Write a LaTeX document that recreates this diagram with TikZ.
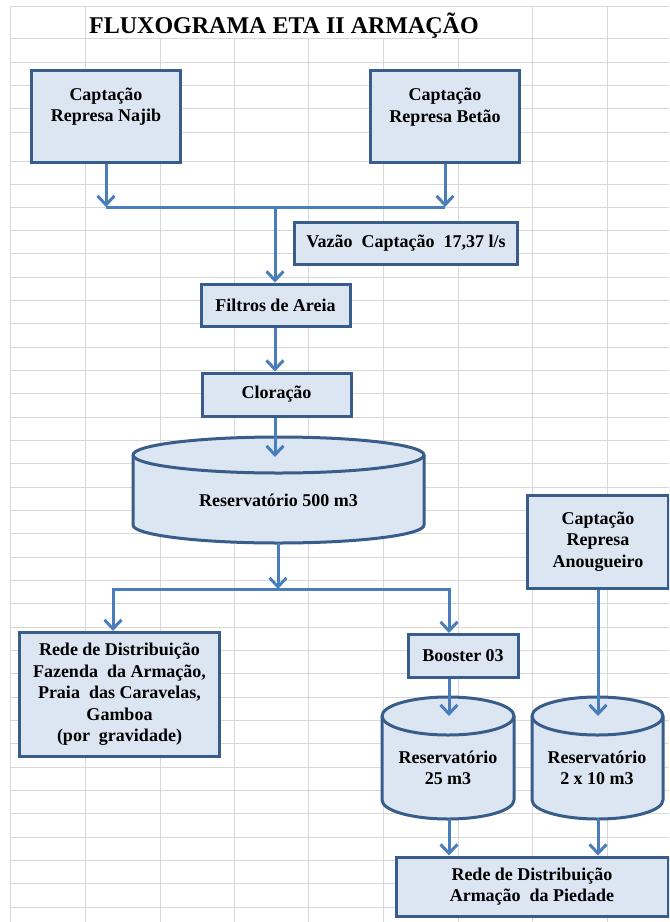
\documentclass[tikz,border=0pt]{standalone}
\usepackage{fontspec}
\setmainfont{Liberation Serif}
\usetikzlibrary{arrows.meta}

% one drawing unit = one screen pixel
\newdimen\pxu \pxu=0.75pt

\definecolor{boxfill}{HTML}{DCE6F2}
\definecolor{boxline}{HTML}{385D8A}
\definecolor{flow}{HTML}{4A7EBB}
\definecolor{gridgray}{HTML}{D8D8D8}

\newcommand\bodyfont{\fontsize{13.5pt}{16.1pt}\selectfont\bfseries}
\newcommand\titlefont{\fontsize{18pt}{21pt}\selectfont\bfseries}

\tikzset{
  box/.style={draw=boxline, fill=boxfill, line width=3\pxu, inner sep=0pt,
    align=center, font=\bodyfont},
  txt/.style={inner sep=0pt, align=center, font=\bodyfont},
  flowline/.style={draw=flow, line width=3\pxu},
  flowarrow/.style={flowline, -{Straight Barb[length=6.75pt,width=12.75pt]}},
  tank/.style={draw=boxline, fill=boxfill, line width=3\pxu, line join=round},
  gridline/.style={draw=gridgray, line width=1\pxu},
}

% storage tank: name, left x, right x, top ellipse y, bottom ellipse y, y radius
\newcommand\drawtank[6]{%
  \pgfmathsetmacro\tkrx{(#3-#2)/2}%
  \filldraw[tank] (#2,#4) -- (#2,#5)
    arc[start angle=180,end angle=360,x radius=\tkrx\pxu,y radius=#6\pxu]
    -- (#3,#4)
    arc[start angle=0,end angle=180,x radius=\tkrx\pxu,y radius=#6\pxu] -- cycle;
  \draw[tank, fill=none] (#2,#4)
    arc[start angle=180,end angle=360,x radius=\tkrx\pxu,y radius=#6\pxu];
}

\begin{document}
\begin{tikzpicture}[x=0.75pt, y=-0.75pt]
\useasboundingbox (0,0) rectangle (669,922);
\clip (0,0) rectangle (669,922);
\fill[white] (0,0) rectangle (669,922);

% spreadsheet grid
\foreach \gx in {10,85,532,607} \draw[gridline] (\gx,6) -- (\gx,922);
\foreach \gx in {160,234,308,383,458} \draw[gridline] (\gx,38) -- (\gx,922);
\foreach \gy in {6,38,62,85,108,132,161,184,207,230,253,277,300,323,347,370,
  393,417,440,463,487,510,533,557,580,603,627,650,673,697,720,743,767,790,
  813,837,860,883,907}
  \draw[gridline] (10,\gy) -- (669,\gy);

% title
\node[font=\titlefont, anchor=base, inner sep=0pt] (title) at (284,33)
  {FLUXOGRAMA ETA II ARMAÇÃO};

% intake boxes
\node[box, minimum width=149\pxu, minimum height=92\pxu] (najib) at (106,116) {};
\node[txt] (najibtxt) at (106,106.5) {Captação\\Represa Najib};
\node[box, minimum width=149\pxu, minimum height=92\pxu] (betao) at (445,116) {};
\node[txt] (betaotxt) at (445,107) {Captação\\Represa Betão};

\node[box, minimum width=223\pxu, minimum height=42\pxu] (vazao) at (406,243)
  {Vazão~ Captação~ 17,37 l/s};

% treatment
\node[box, minimum width=149\pxu, minimum height=42\pxu] (filtros) at (275.5,305)
  {Filtros de Areia};
\node[box, minimum width=149\pxu, minimum height=43\pxu] (cloracao) at (276.5,394.5)
  {Cloração};

% main reservoir
\drawtank{res500}{133}{424}{455}{525}{18}
\coordinate (res500in) at (275,457);
\coordinate (res500out) at (278,543);
\node[txt] (res500) at (278.5,500) {Reservatório 500 m3};

% distribution
\node[box, minimum width=200\pxu, minimum height=124\pxu] (rede1) at (119.5,694.5)
  {Rede de Distribuição\\Fazenda~ da Armação,\\Praia~ das Caravelas,\\Gamboa\\(por~ gravidade)};
\node[box, minimum width=110\pxu, minimum height=43\pxu] (booster) at (463,656)
  {Booster 03};
\node[box, minimum width=141\pxu, minimum height=93\pxu] (anoug) at (598,541.5)
  {Captação\\Represa\\Anougueiro};

\drawtank{res25}{382}{514}{716}{800}{19}
\coordinate (res25in) at (449,716);
\coordinate (res25out) at (449,819);
\node[txt] (res25) at (448,768) {Reservatório\\25 m3};

\drawtank{res2}{532}{663}{716}{800}{19}
\coordinate (res2in) at (598,716);
\coordinate (res2out) at (598,819);
\node[txt] (res2) at (597,768) {Reservatório\\2 x 10 m3};

\node[box, minimum width=272\pxu, minimum height=59\pxu] (rede2) at (532,886.5)
  {Rede de Distribuição\\Armação~ da Piedade};

% connectors
\coordinate (jn1) at (106,207);
\coordinate (jn2) at (445,207);
\coordinate (jm) at (275,207);
\draw[flowarrow] (najib.south) -- (jn1);
\draw[flowarrow] (betao.south) -- (jn2);
\draw[flowline] (jn1) -- (jn2);
\draw[flowarrow] (jm) -- (jm |- filtros.north);
\draw[flowarrow] (jm |- filtros.south) -- (jm |- cloracao.north);
\draw[flowarrow] (jm |- cloracao.south) -- (res500in);

\coordinate (sp) at (278,589);
\coordinate (spL) at (113,589);
\coordinate (spR) at (449,589);
\draw[flowarrow] (res500out) -- (sp);
\draw[flowarrow] (sp) -- (spL) -- (spL |- rede1.north);
\draw[flowarrow] (sp) -- (spR) -- (spR |- booster.north);
\draw[flowarrow] (spR |- booster.south) -- (res25in);
\draw[flowarrow] (anoug.south) -- (res2in);
\draw[flowarrow] (res25out) -- (res25out |- rede2.north);
\draw[flowarrow] (res2out) -- (res2out |- rede2.north);
\end{tikzpicture}
\end{document}
